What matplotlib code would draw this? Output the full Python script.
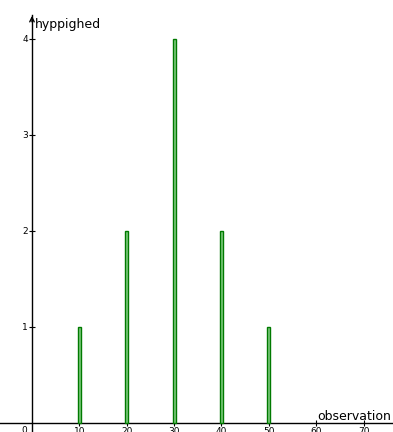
import matplotlib
matplotlib.use("Agg")
import matplotlib.pyplot as plt

observations = [10, 20, 30, 40, 50]
frequencies = [1, 2, 4, 2, 1]
x_ticks = [10, 20, 30, 40, 50, 60, 70]
y_ticks = [1, 2, 3, 4]

fig = plt.figure(figsize=(3.93, 4.32), dpi=100)
ax = fig.add_axes([0, 0, 1, 1])
ax.set_xlim(-6.75, 76.2)
ax.set_ylim(-0.094, 4.406)

ax.bar(observations, frequencies, width=0.6, color="#7fcc7f", edgecolor="#007a00", linewidth=1.0, zorder=3)

for s in ["top", "right"]:
    ax.spines[s].set_visible(False)
ax.spines["left"].set_position(("data", 0))
ax.spines["bottom"].set_position(("data", 0))
ax.spines["left"].set_linewidth(1.0)
ax.spines["bottom"].set_linewidth(1.0)
ax.spines["left"].set_bounds(-0.094, 4.25)

ax.set_xticks(x_ticks)
ax.set_yticks(y_ticks)
ax.tick_params(axis="both", direction="inout", length=4, width=0.8, labelsize=6.5, pad=1)
ax.tick_params(axis="x", pad=1)

ax.annotate("", xy=(0, 4.27), xytext=(0, 4.15),
            arrowprops=dict(arrowstyle="->", lw=1.0, color="black", mutation_scale=8))
ax.text(-1.6, -0.03, "0", fontsize=6.5, ha="center", va="top")
ax.text(0.6, 4.155, "hyppighed", fontsize=9, ha="left", va="center")
ax.text(75.8, 0.065, "observation", fontsize=9, ha="right", va="center")

fig.savefig("out.png", dpi=100)
